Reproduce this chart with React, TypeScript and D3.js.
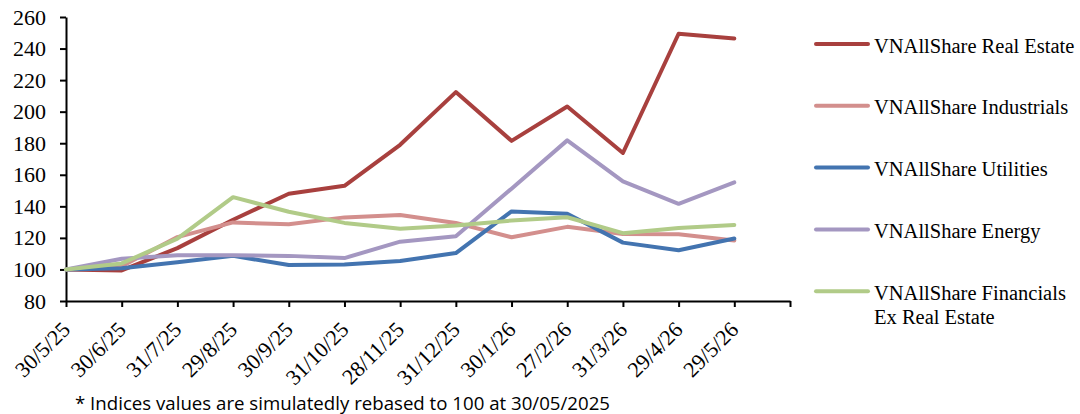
import * as d3 from 'd3';
import { useEffect, useRef } from 'react';

const dates = ['30/5/25', '30/6/25', '31/7/25', '29/8/25', '30/9/25', '31/10/25', '28/11/25',
  '31/12/25', '30/1/26', '27/2/26', '31/3/26', '29/4/26', '29/5/26'];

const realEstate = [100, 99.4, 113.5, 131.5, 148, 153, 179, 212.4, 181.5, 203.3, 173.8, 249.4, 246.3];
const industrials = [100, 102, 120.5, 129.8, 128.6, 133, 134.5, 129.5, 120.4, 127, 122.5, 122.3, 118.4];
const utilities = [100, 100.8, 104.6, 108.6, 102.8, 103.2, 105.4, 110.4, 136.8, 135.3, 117, 112.2, 119.6];
const energy = [100, 106.8, 109, 109, 108.6, 107.2, 117.6, 121, 151.2, 181.8, 155.8, 141.6, 155.2];
const financials = [100, 103.8, 119.5, 145.8, 136.6, 129.5, 125.8, 127.8, 131, 133.1, 123, 126.3, 128.2];

const yTicks = [80, 100, 120, 140, 160, 180, 200, 220, 240, 260];

const seriesNames = ['VNAllShare Real Estate', 'VNAllShare Industrials', 'VNAllShare Utilities',
  'VNAllShare Energy', 'VNAllShare Financials|Ex Real Estate'];
const seriesValues = [realEstate, industrials, utilities, energy, financials];
const colors = ['#A8403E', '#D38F8D', '#4374B0', '#A497C1', '#B1CB88'];

const footnote = '* Indices values are simulatedly rebased to 100 at 30/05/2025';

const Chart = () => {
  const svgRef = useRef<SVGSVGElement | null>(null);

  useEffect(() => {
    const width = 1080;
    const height = 414;
    const left = 66, right = 790, top = 17, bottom = 301;
    const serif = '"Liberation Serif", "Times New Roman", serif';

    // index scale: one extra slot after the last date, like the Excel date axis
    const x = d3.scaleLinear().domain([0, dates.length]).range([left, right]);
    const y = d3.scaleLinear().domain([80, 260]).range([bottom, top]);

    const svg = d3.select(svgRef.current)
      .attr('width', width)
      .attr('height', height);
    svg.selectAll('*').remove();

    // y axis
    const yAxis = svg.append('g')
      .attr('transform', `translate(${left},0)`)
      .call(d3.axisLeft(y).tickValues(yTicks).tickSize(6).tickSizeOuter(0).tickPadding(14));
    yAxis.select('.domain').attr('stroke', '#000').attr('stroke-width', 2);
    yAxis.selectAll('.tick line').attr('stroke', '#000').attr('stroke-width', 2);
    yAxis.selectAll('.tick text')
      .attr('font-family', serif).attr('font-size', 22).attr('fill', '#000');

    // x axis
    const xAxis = svg.append('g')
      .attr('transform', `translate(0,${bottom})`)
      .call(d3.axisBottom(x).tickValues(d3.range(dates.length + 1)).tickSize(6).tickSizeOuter(0)
        .tickFormat((d) => dates[d as number] ?? ''));
    xAxis.select('.domain').attr('stroke', '#000').attr('stroke-width', 2);
    xAxis.selectAll('.tick line').attr('stroke', '#000').attr('stroke-width', 2);
    xAxis.selectAll('.tick text')
      .attr('font-family', serif).attr('font-size', 22).attr('fill', '#000')
      .attr('text-anchor', 'end')
      .attr('dy', null)
      .attr('y', 0)
      .attr('transform', 'translate(5,30) rotate(-45)');

    // lines
    const line = d3.line<number>()
      .x((_, i) => x(i))
      .y((d) => y(d));

    seriesValues.forEach((vals, i) => {
      svg.append('path')
        .datum(vals)
        .attr('fill', 'none')
        .attr('stroke', colors[i])
        .attr('stroke-width', 4)
        .attr('stroke-linejoin', 'round')
        .attr('stroke-linecap', 'round')
        .attr('d', line);
    });

    // legend
    const legend = svg.append('g');
    seriesNames.forEach((name, i) => {
      const ly = 44 + i * 61.8;
      legend.append('line')
        .attr('x1', 816).attr('x2', 868)
        .attr('y1', ly).attr('y2', ly)
        .attr('stroke', colors[i]).attr('stroke-width', 4)
        .attr('stroke-linecap', 'round');
      const t = legend.append('text')
        .attr('x', 874).attr('y', ly + 8.5)
        .attr('font-family', serif).attr('font-size', 20.5).attr('fill', '#000');
      name.split('|').forEach((part, j) => {
        t.append('tspan').attr('x', 874).attr('dy', j === 0 ? 0 : 24).text(part);
      });
    });

    // footnote
    svg.append('text')
      .attr('x', 75).attr('y', 410)
      .attr('font-family', '"Open Sans", "Liberation Sans", sans-serif')
      .attr('font-size', 18)
      .attr('fill', '#000')
      .attr('textLength', 535)
      .attr('lengthAdjust', 'spacingAndGlyphs')
      .text(footnote);
  }, []);

  return <svg ref={svgRef} style={{ position: 'absolute', left: 0, top: 0, background: '#fff' }}></svg>;
};

export default function App() {
  return <Chart />;
}
